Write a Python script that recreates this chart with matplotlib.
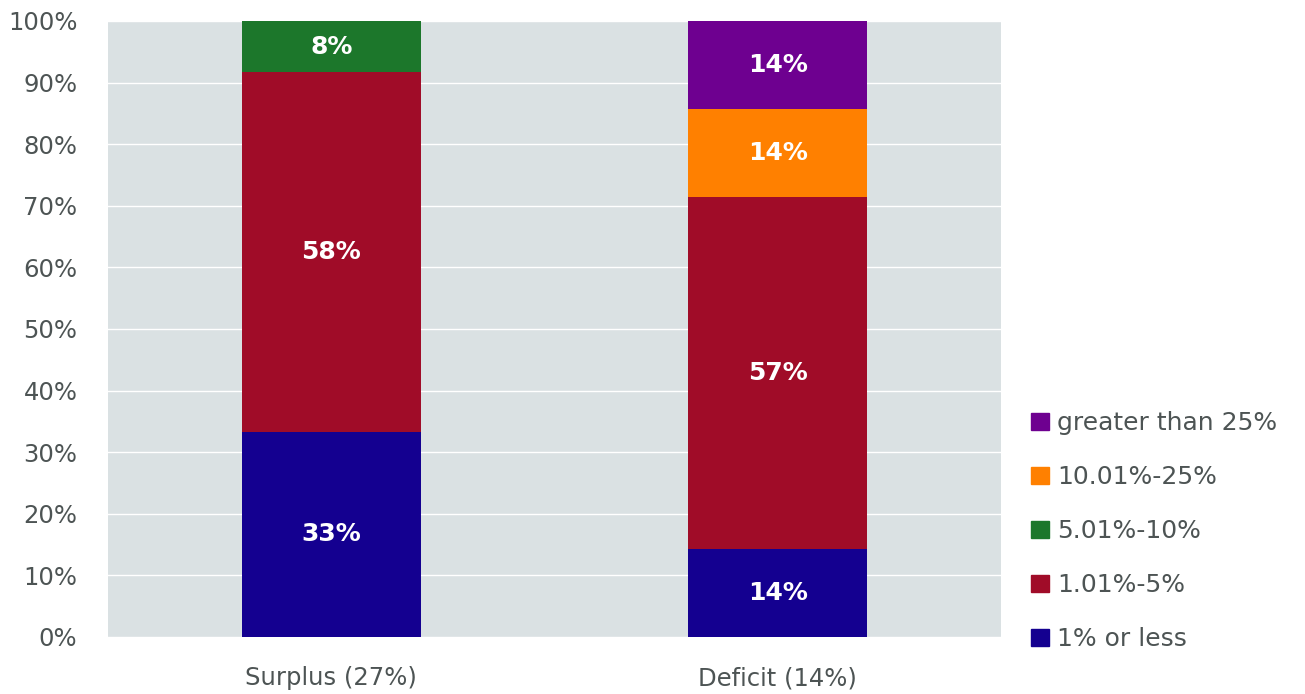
import numpy as np
import matplotlib.pyplot as plt
from matplotlib.patches import Patch

categories = ['Surplus (27%)', 'Deficit (14%)']
bands = ['1% or less', '1.01%-5%', '5.01%-10%', '10.01%-25%', 'greater than 25%']
colors = ['#140090', '#A00C28', '#1C772B', '#FF8000', '#6E0090']
# share of each group in percent, bottom band first
shares = {
    '1% or less': [33.33, 14.29],
    '1.01%-5%': [58.33, 57.14],
    '5.01%-10%': [8.34, 0],
    '10.01%-25%': [0, 14.29],
    'greater than 25%': [0, 14.28],
}

txt = '#4D5454'
fig = plt.figure(figsize=(13.05, 6.94), dpi=100)
ax = fig.add_axes([108/1305, 1-637/694, 893/1305, 616/694])
ax.set_facecolor('#DAE1E3')

x = np.arange(len(categories))
bottom = np.zeros(len(categories))
for band, c in zip(bands, colors):
    vals = np.array(shares[band])
    ax.bar(x, vals, 0.4, bottom=bottom, color=c, zorder=2)
    for xi, v, b in zip(x, vals, bottom):
        if v > 0:
            ax.text(xi, b + v/2, '%d%%' % round(v), ha='center', va='center',
                    color='white', fontsize=18, fontweight='bold', zorder=3)
    bottom += vals

ax.set_xlim(-0.5, 1.5)
ax.set_ylim(0, 100)
ax.set_yticks(np.arange(0, 101, 10))
ax.set_yticklabels(['%d%%' % v for v in range(0, 101, 10)])
ax.set_xticks(x)
ax.set_xticklabels(categories)
ax.grid(axis='y', color='white', lw=1, zorder=1)
ax.tick_params(length=0, labelsize=17.5, labelcolor=txt)
ax.tick_params(axis='y', pad=22)
ax.tick_params(axis='x', pad=21)
for s in ax.spines.values():
    s.set_visible(False)

handles = [Patch(color=c) for c in colors][::-1]
fig.legend(handles, bands[::-1], loc='lower left', bbox_to_anchor=(1031/1305, 1-651/694),
           frameon=False, fontsize=18, labelcolor=txt, handlelength=0.7, handleheight=0.7,
           handletextpad=0.35, labelspacing=1.2, borderpad=0, borderaxespad=0)

fig.savefig('out.png', dpi=100)
